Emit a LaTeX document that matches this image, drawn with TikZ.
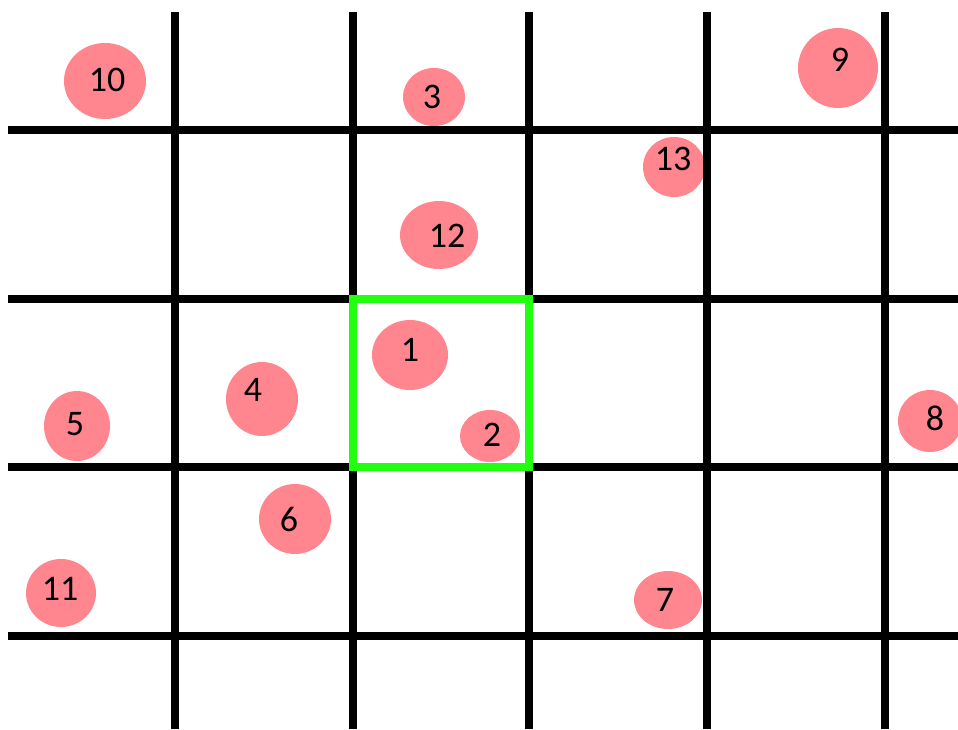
\documentclass[tikz,border=0pt]{standalone}
\usepackage{fontspec}
\setmainfont{Carlito}
\usepackage{xcolor}
\definecolor{ballpink}{HTML}{FF858E}
\definecolor{cellgreen}{HTML}{22FF11}

\begin{document}
\begin{tikzpicture}[
  x=1pt,
  y=-1pt,
  every node/.style={font=\fontsize{36}{40}\selectfont, black, inner sep=0pt},
  ball/.style={fill=ballpink},
  gridline/.style={black, line width=8pt},
  focus/.style={cellgreen, line width=8pt}
]
  \useasboundingbox (0,0) rectangle (958,729);

  % ---- the balls -------------------------------------------------------
  \fill[ball] (105,81) ellipse (41 and 38);
  \node (b10) at (107,80) {10};
  \fill[ball] (434,97) ellipse (31 and 29);
  \node (b3) at (432,97) {3};
  \fill[ball] (838,68) ellipse (40 and 40);
  \node (b9) at (840,60) {9};
  \fill[ball] (674,167) ellipse (31 and 30);
  \node (b13) at (673,159) {13};
  \fill[ball] (439,235) ellipse (39 and 34);
  \node (b12) at (447,236) {12};
  \fill[ball] (410,355) ellipse (38 and 35);
  \node (b1) at (410,350) {1};
  \fill[ball] (262,399) ellipse (36 and 37);
  \node (b4) at (253,390) {4};
  \fill[ball] (77,426) ellipse (33 and 35);
  \node (b5) at (75,424) {5};
  \fill[ball] (490,436) ellipse (30 and 26);
  \node (b2) at (492,435) {2};
  \fill[ball] (930,421) ellipse (32 and 31);
  \node (b8) at (935,418) {8};
  \fill[ball] (295,519) ellipse (36 and 35);
  \node (b6) at (289,519) {6};
  \fill[ball] (61,593) ellipse (35 and 34);
  \node (b11) at (60,589) {11};
  \fill[ball] (668,600) ellipse (34 and 29);
  \node (b7) at (665,600) {7};

  % ---- the grid --------------------------------------------------------
  \foreach \gx in {175,353,529,707,885}
    \draw[gridline] (\gx,12) -- (\gx,729);
  \foreach \gy in {130,299,467,636}
    \draw[gridline] (8,\gy) -- (958,\gy);

  % ---- the cell in view ------------------------------------------------
  \draw[focus] (353,299) rectangle (529,467);
\end{tikzpicture}
\end{document}
